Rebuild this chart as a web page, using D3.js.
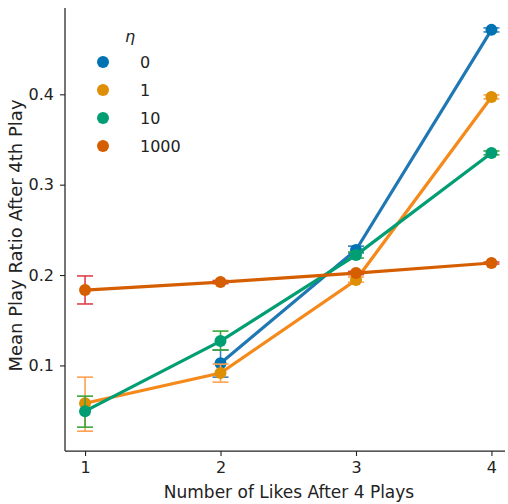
<!DOCTYPE html>
<html>
<head>
<meta charset="utf-8">
<script src="https://cdn.jsdelivr.net/npm/d3@7"></script>
<style>
  html, body { margin: 0; padding: 0; background: #fff; }
  svg text { font-family: "DejaVu Sans", "Liberation Sans", sans-serif; fill: #222; }
</style>
</head>
<body>
<svg id="chart" width="508" height="504"></svg>
<script>
const xValues = [1, 2, 3, 4];
const etaLabels = ["0", "1", "10", "1000"];
const yTicks = [0.1, 0.2, 0.3, 0.4];

const mean0 = [null, 0.1025, 0.2277, 0.4713];
const low0  = [null, 0.0870, 0.2244, 0.4690];
const high0 = [null, 0.1170, 0.2320, 0.4735];

const mean1 = [0.0582, 0.0915, 0.1945, 0.3970];
const low1  = [0.0272, 0.0815, 0.1922, 0.3949];
const high1 = [0.0870, 0.1014, 0.1978, 0.3993];

const mean10 = [0.0494, 0.1269, 0.2221, 0.3351];
const low10  = [0.0317, 0.1170, 0.2188, 0.3330];
const high10 = [0.0660, 0.1380, 0.2255, 0.3373];

const mean1000 = [0.1834, 0.1922, 0.2022, 0.2133];
const low1000  = [0.1680, 0.1905, 0.2005, 0.2122];
const high1000 = [0.1990, 0.1940, 0.2040, 0.2144];

const markerColors = ["#0173b2", "#de8f05", "#029e73", "#d55e00"];
const lineColors   = ["#1f77b4", "#f5891a", "#029e73", "#d55e00"];
const errColors    = ["#3a7fc0", "#ffa14f", "#3aa63a", "#e0404a"];

const series = [
  {mean: mean0, low: low0, high: high0},
  {mean: mean1, low: low1, high: high1},
  {mean: mean10, low: low10, high: high10},
  {mean: mean1000, low: low1000, high: high1000}
];

const svg = d3.select("#chart");
const pL = 65, pR = 505, pT = 8, pB = 451;

const x = d3.scaleLinear().domain([0.852, 4.1]).range([pL, pR]);
const y = d3.scaleLinear().domain([0.0053, 0.4955]).range([pB, pT]);

// axes
const xAxis = svg.append("g").attr("transform", `translate(0,${pB})`)
  .call(d3.axisBottom(x).tickValues(xValues).tickFormat(d3.format("d")).tickSizeOuter(0).tickSize(5).tickPadding(6));
const yAxis = svg.append("g").attr("transform", `translate(${pL},0)`)
  .call(d3.axisLeft(y).tickValues(yTicks).tickFormat(d3.format(".1f")).tickSizeOuter(0).tickSize(5).tickPadding(6));
[xAxis, yAxis].forEach(a => {
  a.select(".domain").attr("stroke", "#222").attr("stroke-width", 1.25);
  a.selectAll(".tick line").attr("stroke", "#222").attr("stroke-width", 1.1);
  a.selectAll(".tick text").attr("font-size", 16).attr("fill", "#222")
    .attr("font-family", "DejaVu Sans, sans-serif");
});
xAxis.select(".domain").attr("d", `M${pL},0H${pR}`);
yAxis.select(".domain").attr("d", `M0,${pT}V${pB}`);

svg.append("text").attr("x", (pL + pR) / 2 + 4).attr("y", 498)
  .attr("text-anchor", "middle").attr("font-size", 17).text("Number of Likes After 4 Plays");
svg.append("text").attr("transform", `translate(22,${(pT + pB) / 2 + 6}) rotate(-90)`)
  .attr("text-anchor", "middle").attr("font-size", 18).text("Mean Play Ratio After 4th Play");

const line = d3.line().x(d => x(d.x)).y(d => y(d.v));

series.forEach((s, i) => {
  const pts = xValues.map((xv, j) => ({x: xv, v: s.mean[j], lo: s.low[j], hi: s.high[j]}))
    .filter(d => d.v !== null);
  const g = svg.append("g");
  const eb = g.selectAll("g.eb").data(pts).join("g").attr("class", "eb");
  eb.append("line").attr("x1", d => x(d.x)).attr("x2", d => x(d.x))
    .attr("y1", d => y(d.lo)).attr("y2", d => y(d.hi))
    .attr("stroke", errColors[i]).attr("stroke-width", 1.6);
  ["lo", "hi"].forEach(k => {
    eb.append("line").attr("x1", d => x(d.x) - 8).attr("x2", d => x(d.x) + 8)
      .attr("y1", d => y(d[k])).attr("y2", d => y(d[k]))
      .attr("stroke", errColors[i]).attr("stroke-width", 1.6);
  });
  g.append("path").datum(pts).attr("d", line).attr("fill", "none")
    .attr("stroke", lineColors[i]).attr("stroke-width", 3.2);
  g.selectAll("circle").data(pts).join("circle")
    .attr("cx", d => x(d.x)).attr("cy", d => y(d.v)).attr("r", 6)
    .attr("fill", markerColors[i]);
});

// legend
const lg = svg.append("g");
lg.append("text").attr("x", 130).attr("y", 42).attr("text-anchor", "middle")
  .attr("font-family", "DejaVu Serif, serif").attr("font-style", "italic").attr("font-size", 16).text("η");
etaLabels.forEach((lab, i) => {
  const yy = 62 + i * 28;
  lg.append("circle").attr("cx", 103).attr("cy", yy).attr("r", 6).attr("fill", markerColors[i]);
  lg.append("text").attr("x", 140).attr("y", yy + 6).attr("font-size", 16).text(lab);
});
</script>
</body>
</html>
